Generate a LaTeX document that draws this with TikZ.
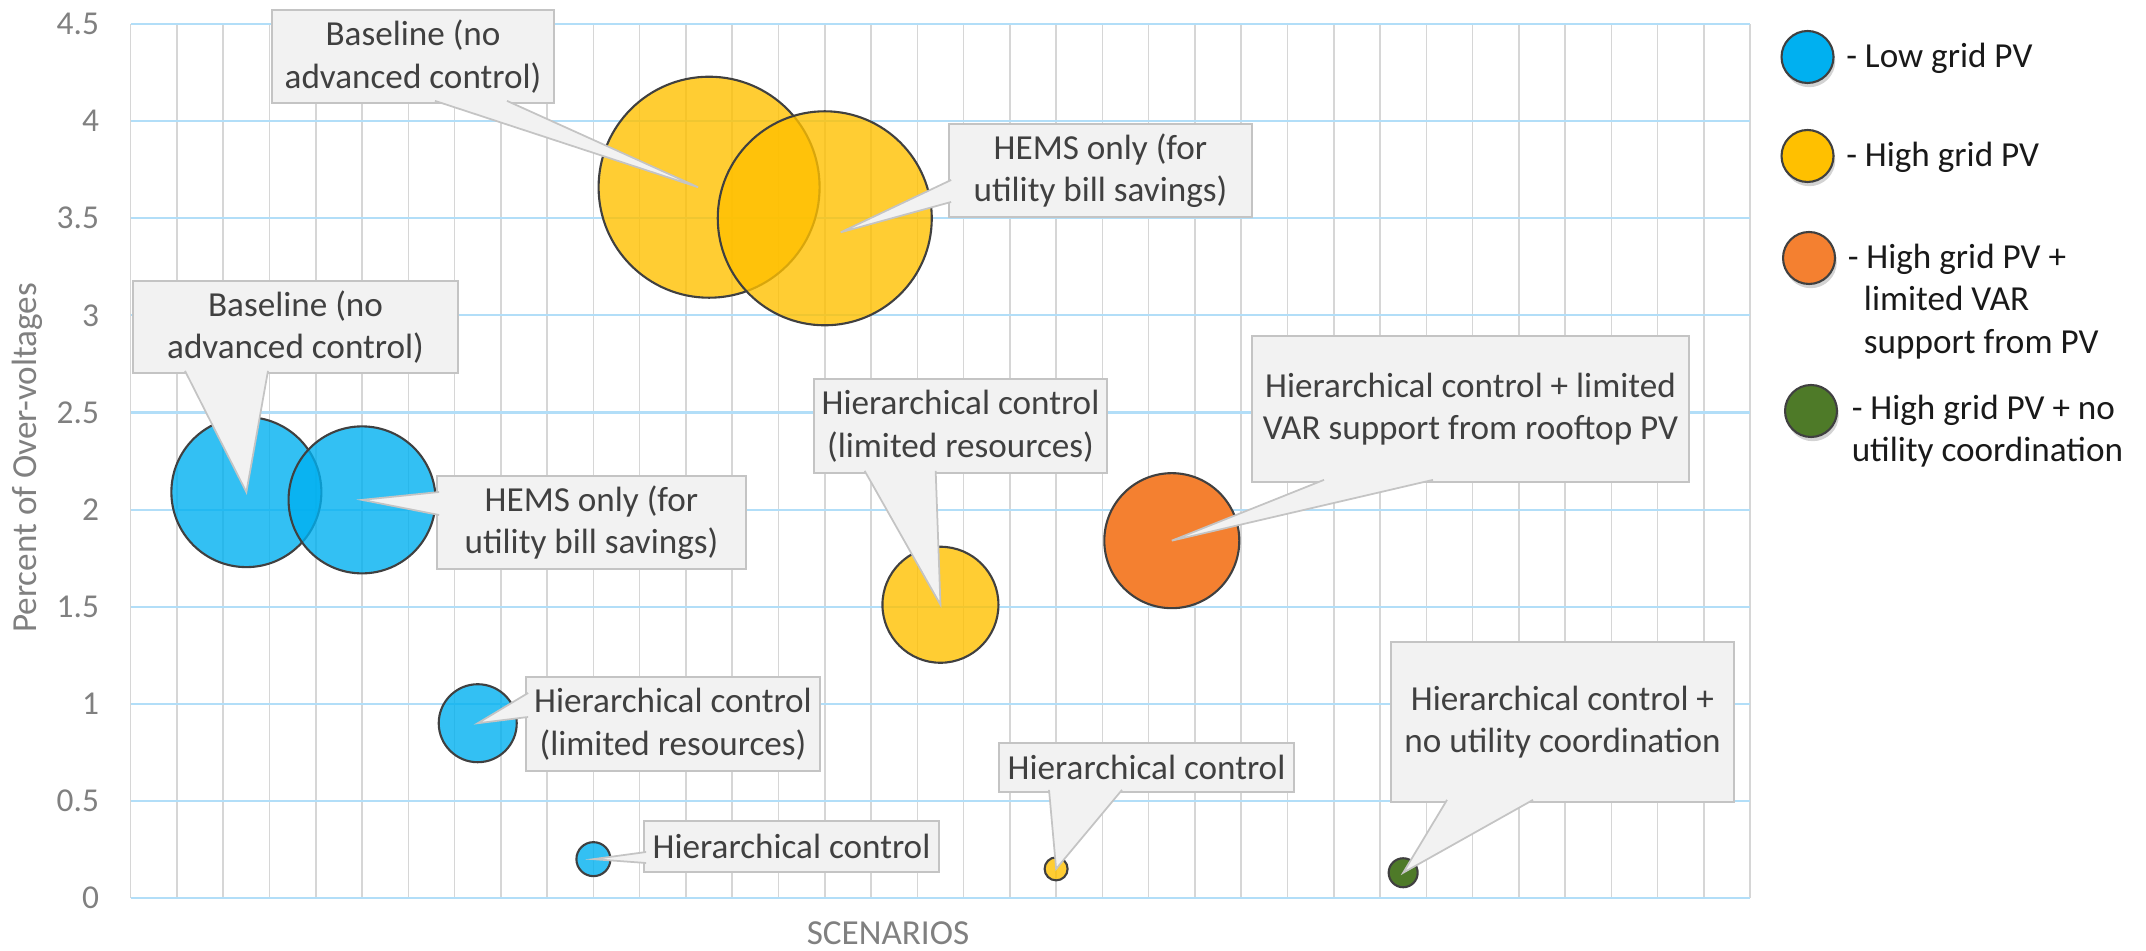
\documentclass[tikz,border=0pt]{standalone}
\usepackage{fontspec}
\setmainfont{Carlito}
\usetikzlibrary{positioning,shadows}
\definecolor{lowpv}{RGB}{0,176,240}
\definecolor{highpv}{RGB}{255,192,0}
\definecolor{varpv}{RGB}{244,128,48}
\definecolor{nocoord}{RGB}{78,122,40}
\definecolor{bubbleline}{RGB}{64,64,64}
\definecolor{boxfill}{RGB}{242,242,242}
\definecolor{boxedge}{RGB}{196,196,196}
\definecolor{labeltext}{RGB}{64,64,64}
\definecolor{axistext}{RGB}{128,128,128}
\definecolor{vgridcol}{RGB}{214,214,214}
\definecolor{hgridcol}{RGB}{178,222,248}
\newcommand{\pointer}[3]{% base point 1, base point 2, tip   (callout pointer)
  \fill[boxfill] #1 -- #3 -- #2 -- cycle;
  \draw[boxedge,line width=0.5pt] #1 -- #3 -- #2;}

\begin{document}
\begin{tikzpicture}[
    vgrid/.style={vgridcol,line width=0.45pt},
    hgrid/.style={hgridcol,line width=0.6pt},
    tick/.style={font=\fontsize{9.5}{11}\selectfont,text=axistext,inner sep=0pt},
    bubble/.style={circle,draw=bubbleline,fill=#1,line width=0.6pt,inner sep=0pt,outer sep=0pt},
    seethru/.style={fill opacity=0.8},
    callout/.style={draw=boxedge,fill=boxfill,line width=0.5pt,align=center,text=labeltext,
                    font=\fontsize{10}{12.1}\selectfont,inner sep=0.08cm,outer sep=0pt},
    legdot/.style={circle,draw=bubbleline,fill=#1,line width=0.6pt,minimum size=0.52cm,inner sep=0pt,
                   drop shadow={shadow xshift=0.5pt,shadow yshift=-1.2pt,opacity=0.35}},
    legtext/.style={font=\fontsize{10}{12.1}\selectfont,text=black!90,align=left,inner sep=0pt,anchor=base west}]
  \useasboundingbox (0,0) rectangle (21.46,9.5);
  % plot area in data units
  \begin{scope}[shift={(1.307,0.52)},x=0.4627cm,y=1.942cm]
    \foreach \i in {0,...,35} \draw[vgrid] (\i,0) -- (\i,4.5);
    \foreach \v in {0,0.5,1,1.5,2,2.5,3,3.5,4,4.5} {
      \draw[hgrid] (0,\v) -- (35,\v);
      \node[tick,left=0.31cm] at (0,\v) {\v};
    }
    % low grid PV
    \node[bubble=lowpv,seethru,minimum size=1.50cm] (lowbase) at (2.5,2.09) {};
    \node[bubble=lowpv,seethru,minimum size=1.47cm] (lowhems) at (5,2.05) {};
    \node[bubble=lowpv,seethru,minimum size=0.78cm] (lowhierlim) at (7.5,0.90) {};
    \node[bubble=lowpv,seethru,minimum size=0.34cm] (lowhier) at (10,0.20) {};
    % high grid PV
    \node[bubble=highpv,seethru,minimum size=2.21cm] (highbase) at (12.5,3.66) {};
    \node[bubble=highpv,seethru,minimum size=2.14cm] (highhems) at (15,3.50) {};
    \node[bubble=highpv,seethru,minimum size=1.16cm] (highhierlim) at (17.5,1.51) {};
    \node[bubble=highpv,seethru,minimum size=0.23cm] (highhier) at (20,0.15) {};
    % VAR support, no coordination
    \node[bubble=varpv,minimum size=1.35cm] (varhier) at (22.5,1.84) {};
    \node[bubble=nocoord,minimum size=0.29cm] (nocohier) at (27.5,0.13) {};
  \end{scope}
  % axis titles
  \node[font=\fontsize{10}{12}\selectfont,text=axistext,rotate=90] (ytitle) at (0.27,4.92) {Percent of Over-voltages};
  \node[font=\fontsize{10}{12}\selectfont,text=axistext] (xtitle) at (8.88,0.17) {SCENARIOS};
  % callouts
  \node[callout,minimum width=2.82cm,minimum height=0.93cm] (highbasetxt) at (4.13,8.935) {Baseline (no\\advanced control)};
  \node[callout,minimum width=3.25cm,minimum height=0.92cm] (lowbasetxt) at (2.955,6.23) {Baseline (no\\advanced control)};
  \node[callout,minimum width=3.09cm,minimum height=0.93cm] (lowhemstxt) at (5.915,4.275) {HEMS only (for\\utility bill savings)};
  \node[callout,minimum width=2.94cm,minimum height=0.94cm] (lowhierlimtxt) at (6.73,2.26) {Hierarchical control\\(limited resources)};
  \node[callout,minimum width=2.95cm,minimum height=0.51cm] (lowhiertxt) at (7.915,1.035) {Hierarchical control};
  \node[callout,minimum width=3.03cm,minimum height=0.93cm] (highhemstxt) at (11.005,7.795) {HEMS only (for\\utility bill savings)};
  \node[callout,minimum width=2.93cm,minimum height=0.94cm] (highhierlimtxt) at (9.605,5.24) {Hierarchical control\\(limited resources)};
  \node[callout,minimum width=4.37cm,minimum height=1.46cm] (varhiertxt) at (14.705,5.41) {Hierarchical control + limited\\VAR support from rooftop PV};
  \node[callout,minimum width=2.95cm,minimum height=0.49cm] (highhiertxt) at (11.465,1.825) {Hierarchical control};
  \node[callout,minimum width=3.43cm,minimum height=1.60cm] (nocohiertxt) at (15.625,2.28) {Hierarchical control +\\no utility coordination};
  \pointer{([xshift=1.63cm,yshift=0.6pt]highbasetxt.south west)}{([xshift=2.35cm,yshift=0.6pt]highbasetxt.south west)}{([xshift=-0.11cm]highbase.center)}
  \pointer{([xshift=0.52cm,yshift=0.6pt]lowbasetxt.south west)}{([xshift=1.35cm,yshift=0.6pt]lowbasetxt.south west)}{(lowbase.center)}
  \pointer{([xshift=0.6pt,yshift=0.77cm]lowhemstxt.south west)}{([xshift=0.6pt,yshift=0.54cm]lowhemstxt.south west)}{(lowhems.center)}
  \pointer{([xshift=0.6pt,yshift=0.78cm]lowhierlimtxt.south west)}{([xshift=0.6pt,yshift=0.54cm]lowhierlimtxt.south west)}{(lowhierlim.center)}
  \pointer{([xshift=0.6pt,yshift=0.20cm]lowhiertxt.south west)}{([xshift=0.6pt,yshift=0.09cm]lowhiertxt.south west)}{(lowhier.center)}
  \pointer{([xshift=0.6pt,yshift=0.37cm]highhemstxt.south west)}{([xshift=0.6pt,yshift=0.15cm]highhemstxt.south west)}{([xshift=0.16cm,yshift=-0.14cm]highhems.center)}
  \pointer{([xshift=0.51cm,yshift=0.6pt]highhierlimtxt.south west)}{([xshift=1.22cm,yshift=0.6pt]highhierlimtxt.south west)}{(highhierlim.center)}
  \pointer{([xshift=0.72cm,yshift=0.6pt]varhiertxt.south west)}{([xshift=1.81cm,yshift=0.6pt]varhiertxt.south west)}{(varhier.center)}
  \pointer{([xshift=0.50cm,yshift=0.6pt]highhiertxt.south west)}{([xshift=1.23cm,yshift=0.6pt]highhiertxt.south west)}{(highhier.center)}
  \pointer{([xshift=0.56cm,yshift=0.6pt]nocohiertxt.south west)}{([xshift=1.42cm,yshift=0.6pt]nocohiertxt.south west)}{(nocohier.center)}
  % legend (base of a wrapped text is its last line)
  \node[legdot=lowpv] (leglow) at (18.075,8.93) {};
  \node[legdot=highpv] (leghigh) at (18.075,7.94) {};
  \node[legdot=varpv] (legvar) at (18.09,6.92) {};
  \node[legdot=nocoord] (legnoco) at (18.11,5.39) {};
  \node[legtext] (leglowtxt) at ([xshift=0.11cm,yshift=-0.11cm]leglow.east) {- Low grid PV};
  \node[legtext] (leghightxt) at ([xshift=0.11cm,yshift=-0.11cm]leghigh.east) {- High grid PV};
  \node[legtext] (legvartxt) at ([xshift=0.11cm,yshift=-0.954cm]legvar.east)
       {- High grid PV +\\\hspace*{4.6pt}limited VAR\\\hspace*{4.6pt}support from PV};
  \node[legtext] (legnocotxt) at ([xshift=0.13cm,yshift=-0.507cm]legnoco.east)
       {- High grid PV + no\\utility coordination};
\end{tikzpicture}
\end{document}
